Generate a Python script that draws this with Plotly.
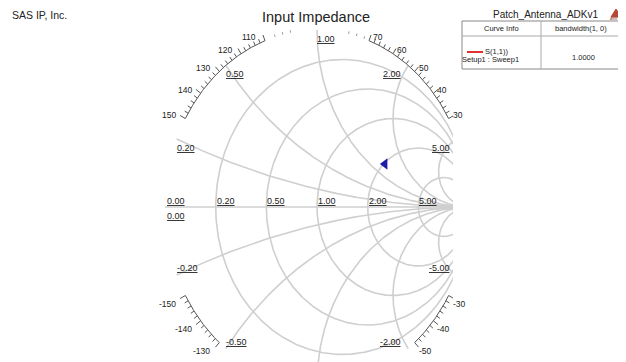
import numpy as np
import plotly.graph_objects as go

# ---------------- data ----------------
resistance_values = [0.2, 0.5, 1.0, 2.0, 5.0]
resistance_labels = ["0.20", "0.50", "1.00", "2.00", "5.00"]
reactance_values = [0.2, 0.5, 1.0, 2.0, 5.0, -0.2, -0.5, -1.0, -2.0, -5.0]
reactance_labels = ["0.20", "0.50", "1.00", "2.00", "5.00",
                    "-0.20", "-0.50", "-1.00", "-2.00", "-5.00"]
angle_labels = [110, 120, 130, 140, 150, 70, 60, 50, 40, 30,
                -130, -140, -150, -30, -40, -50]
tick_spans = [(30, 70), (110, 150), (-150, -130), (-50, -30)]
faint_tick_spans = [(72, 80), (100, 108)]
s11_real = [2.03]
s11_imag = [1.33]
title_text = "Input Impedance"
company_text = "SAS IP, Inc."
project_text = "Patch_Antenna_ADKv1"
legend_header = ["Curve Info", "bandwidth(1, 0)"]
legend_curve = "S(1,1))"
legend_setup = "Setup1 : Sweep1"
legend_value = "1.0000"

# ---------------- geometry (reference-window pixels) ----------------
WIN_W, WIN_H = 626, 362
OFF = 8                     # page body margin
W, H = WIN_W - OFF, WIN_H - OFF
CX, CY = 317.0, 207.0       # chart centre
RX, RY = 152.0, 177.0       # unit circle radii (stretched)
PLOT_R = 453.0              # right edge of the plot area (clip)

xr = [(OFF - CX) / RX, (PLOT_R - CX) / RX]
yr = [(CY - WIN_H) / RY, (CY - OFF) / RY]


def g2px(gx, gy):
    return CX + RX * gx, CY - RY * gy


def px2g(X, Y):
    return (X - CX) / RX, (CY - Y) / RY


def paper(X, Y):
    return (X - OFF) / (PLOT_R - OFF), 1 - (Y - OFF) / H


def gamma(z):
    return (z - 1) / (z + 1)


FONT = "Liberation Sans, Arial, sans-serif"
TXT = "#222222"
GRID = "#cfcfcf"

gx_all, gy_all = [], []
# real axis
gx_all += [-1, 1, None]
gy_all += [0, 0, None]
# resistance circles
s = np.linspace(-np.pi / 2 + 1e-4, np.pi / 2 - 1e-4, 900)
for r in resistance_values:
    g = gamma(r + 1j * np.tan(s))
    gx_all += list(g.real) + [None]
    gy_all += list(g.imag) + [None]
# reactance arcs
s2 = np.linspace(0, np.pi / 2 - 1e-4, 600)
for xv in reactance_values:
    g = gamma(np.tan(s2) + 1j * xv)
    gx_all += list(g.real) + [None]
    gy_all += list(g.imag) + [None]

fig = go.Figure()
fig.add_trace(go.Scatter(x=gx_all, y=gy_all, mode="lines",
                         line=dict(color=GRID, width=1.6),
                         hoverinfo="skip", showlegend=False))

# angle tick ring
rx_, ry_ = [], []
tx_, ty_ = [], []
for a0, a1 in tick_spans:
    th = np.radians(np.linspace(a0, a1, 80))
    rx_ += list(np.cos(th)) + [None]
    ry_ += list(np.sin(th)) + [None]
    for a in range(a0, a1 + 1, 2):
        t = np.radians(a)
        X0, Y0 = g2px(np.cos(t), np.sin(t))
        L = 6.0 if a % 10 == 0 else 4.0
        X1, Y1 = X0 + L * np.cos(t), Y0 - L * np.sin(t)
        p0 = px2g(X0, Y0)
        p1 = px2g(X1, Y1)
        tx_ += [p0[0], p1[0], None]
        ty_ += [p0[1], p1[1], None]
fig.add_trace(go.Scatter(x=rx_, y=ry_, mode="lines",
                         line=dict(color="#555555", width=1),
                         hoverinfo="skip", showlegend=False))
fig.add_trace(go.Scatter(x=tx_, y=ty_, mode="lines",
                         line=dict(color="#555555", width=1),
                         hoverinfo="skip", showlegend=False))
fx_, fy_ = [], []
for a0, a1 in faint_tick_spans:
    for a in range(a0, a1 + 1, 3):
        t = np.radians(a)
        X0, Y0 = g2px(np.cos(t), np.sin(t))
        X1, Y1 = X0 + 2.5 * np.cos(t), Y0 - 2.5 * np.sin(t)
        p0 = px2g(X0, Y0)
        p1 = px2g(X1, Y1)
        fx_ += [p0[0], p1[0], None]
        fy_ += [p0[1], p1[1], None]
fig.add_trace(go.Scatter(x=fx_, y=fy_, mode="lines",
                         line=dict(color="#999999", width=1),
                         hoverinfo="skip", showlegend=False))

# S11 marker
gs = gamma(np.array(s11_real) + 1j * np.array(s11_imag))
fig.add_trace(go.Scatter(x=gs.real, y=gs.imag, mode="markers",
                         marker=dict(symbol="triangle-left", size=10,
                                     color="#1c1ca8"),
                         name="S(1,1)", showlegend=False))

ann = []


def add_text(X, Y, text, size, xanchor="center", yanchor="middle",
             xshift=0, yshift=0, color=TXT):
    px, py = paper(X, Y)
    ann.append(dict(x=px, y=py, xref="paper", yref="paper", text=text,
                    showarrow=False, xanchor=xanchor, yanchor=yanchor,
                    xshift=xshift, yshift=yshift,
                    font=dict(family=FONT, size=size, color=color)))


# real-axis labels
X0, Y0 = g2px(-1, 0)
add_text(X0, Y0, "<u>0.00</u>", 9, "left", "bottom", 0, -1)
add_text(X0, Y0, "<u>0.00</u>", 9, "left", "top", 0, -2)
for r, lab in zip(resistance_values, resistance_labels):
    Xc, Yc = g2px((r - 1) / (r + 1), 0)
    add_text(Xc, Yc, "<u>" + lab + "</u>", 9, "left", "bottom", -1, -1)

# reactance labels (only those that fall inside the picture)
for xv, lab in zip(reactance_values, reactance_labels):
    g = gamma(1j * xv)
    Xp, Yp = g2px(g.real, g.imag)
    if Yp > WIN_H - 5:
        continue
    if g.real <= 0.01:
        xa, xs = "left", -2
    else:
        xa, xs = "right", -5
    if xv > 0:
        add_text(Xp, Yp, "<u>" + lab + "</u>", 9, xa, "top", xs, -2)
    else:
        add_text(Xp, Yp, "<u>" + lab + "</u>", 9, xa, "bottom", xs, 0)

# angle labels
for a in angle_labels:
    t = np.radians(a)
    Xp, Yp = g2px(np.cos(t), np.sin(t))
    if np.cos(t) < 0:
        xa, xs = "right", -7
    else:
        xa, xs = "left", 2
    ys = 3.5 if a > 0 else -8
    add_text(Xp, Yp, str(a), 8.5, xa, "middle", xs, ys)

# headers (kept just below the page's top margin)
add_text(10, 15, company_text, 10.5, "left", "middle")
add_text(316, 17, title_text, 14.5, "center", "middle")
add_text(546, 15, project_text, 10, "center", "middle")

# legend table
TL, TR, TT, TB, TM, TC = 462, 620, 21, 69, 36, 541
add_text((TL + TC) / 2, (TT + TM) / 2, legend_header[0], 7.5)
add_text((TC + TR) / 2, (TT + TM) / 2, legend_header[1], 7.5)
add_text(497, 51, legend_curve, 7.5)
add_text(490, 60, legend_setup, 7.5)
add_text(583, 57, legend_value, 7.5)

shapes = []


def pshape(kind, X0, Y0, X1, Y1, color, width, fill=None):
    a, b = paper(X0, Y0)
    c, d = paper(X1, Y1)
    sh = dict(type=kind, xref="paper", yref="paper", x0=a, y0=b, x1=c, y1=d,
              line=dict(color=color, width=width), layer="above")
    if fill:
        sh["fillcolor"] = fill
    shapes.append(sh)


pshape("rect", TL, TT, TR, TB, "#888888", 1)
pshape("line", TL, TM, TR, TM, "#aaaaaa", 1)
pshape("line", TC, TT, TC, TB, "#aaaaaa", 1)
pshape("line", 467, 52, 483, 52, "#e03030", 2)

# logo
la, lb = paper(611, 17)
lc, ld = paper(621, 17)
le, lf = paper(616, 9)
shapes.append(dict(type="path", xref="paper", yref="paper",
                   path=f"M {la} {lb} L {lc} {ld} L {le} {lf} Z",
                   fillcolor="#b5473a", line=dict(color="#b5473a", width=1)))
add_text(616, 19.5, "ANSYS", 3.5, color="#884444")

fig.update_layout(
    width=W, height=H,
    margin=dict(l=0, r=WIN_W - PLOT_R, t=0, b=0, pad=0, autoexpand=False),
    paper_bgcolor="white", plot_bgcolor="white",
    xaxis=dict(range=xr, visible=False, fixedrange=True),
    yaxis=dict(range=yr, visible=False, fixedrange=True),
    annotations=ann, shapes=shapes, showlegend=False,
)

fig.write_html("out.html")
